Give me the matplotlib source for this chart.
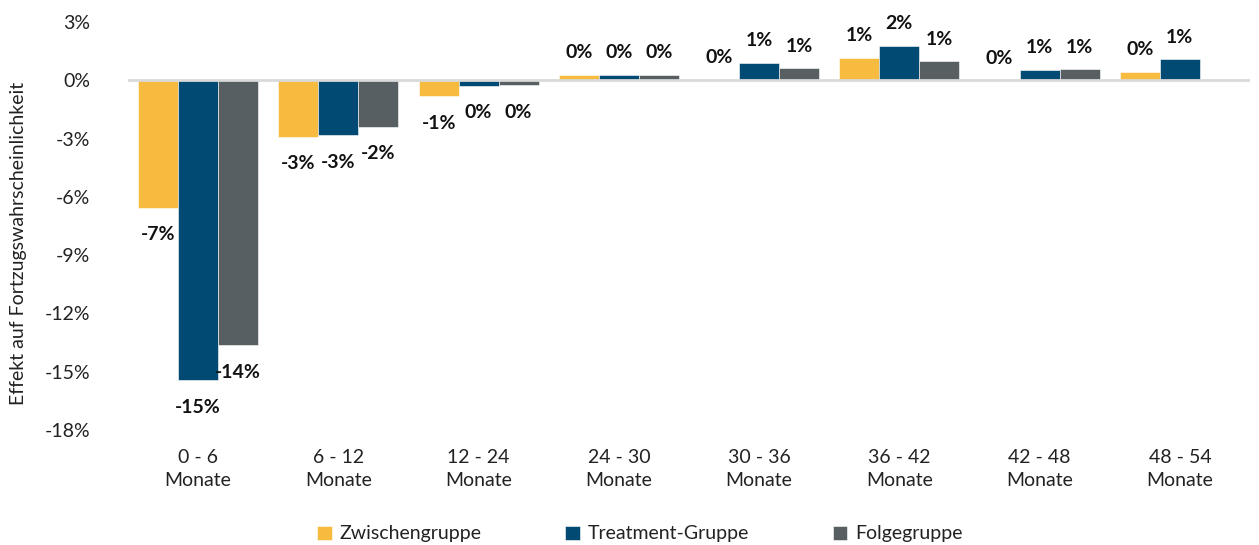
import matplotlib
matplotlib.use("Agg")
import matplotlib.pyplot as plt
import numpy as np

categories = ["0 - 6\nMonate", "6 - 12\nMonate", "12 - 24\nMonate", "24 - 30\nMonate",
              "30 - 36\nMonate", "36 - 42\nMonate", "42 - 48\nMonate", "48 - 54\nMonate"]
series_names = ["Zwischengruppe", "Treatment-Gruppe", "Folgegruppe"]
zwischen = [-6.55, -2.9, -0.82, 0.28, 0.02, 1.16, 0.0, 0.42]
treatment = [-15.43, -2.83, -0.28, 0.28, 0.88, 1.77, 0.52, 1.07]
folge = [-13.63, -2.4, -0.24, 0.28, 0.62, 0.97, 0.56, np.nan]
colors = ["#F6BB3F", "#004A73", "#575F63"]
yticks = [3, 0, -3, -6, -9, -12, -15, -18]

plt.rcParams['font.family'] = ['Lato', 'DejaVu Sans']

fig = plt.figure(figsize=(12.59, 5.45), dpi=100)
ax = fig.add_axes([128/1259, 115/545, 1122/1259, 408/545])

x = np.arange(len(categories))
w = 0.285
for i, (vals, col, name) in enumerate(zip([zwischen, treatment, folge], colors, series_names)):
    xs = x + (i - 1) * w
    v = np.array(vals, dtype=float)
    ax.bar(xs, v, width=w, color=col, edgecolor='white', linewidth=0.4, label=name, zorder=2)
    for xi, vi in zip(xs, v):
        if np.isnan(vi):
            continue
        off = 16 if vi >= 0 else -19.5
        ax.annotate(f"{int(round(vi))}%", (xi, vi), xytext=(0, off), textcoords='offset points',
                    ha='center', va='center', fontsize=14, fontweight='bold', color='#111111', zorder=4)

ax.axhline(0, color='#D9D9D9', linewidth=2, zorder=3)
ax.set_xlim(-0.5, len(categories) - 0.5)
ax.set_ylim(-18, 3)
ax.set_yticks(yticks)
ax.set_yticklabels([f"{t}%" for t in yticks], fontsize=14, color='#222222')
ax.set_xticks(x)
ax.set_xticklabels(categories, fontsize=14, color='#222222', linespacing=1.4)
ax.tick_params(axis='both', length=0)
ax.tick_params(axis='y', pad=27)
ax.tick_params(axis='x', pad=14)
for s in ax.spines.values():
    s.set_visible(False)

fig.text(19/1259, 1 - 243/545, "Effekt auf Fortzugswahrscheinlichkeit", rotation=90,
         ha='center', va='center', fontsize=14, color='#222222')

leg = fig.legend(loc='center', bbox_to_anchor=(640/1259, 1 - 534/545), ncol=3, frameon=False,
                 fontsize=14, handlelength=0.75, handleheight=0.75, handletextpad=0.4, columnspacing=4.3)
for t in leg.get_texts():
    t.set_color('#222222')

fig.savefig("out.png", dpi=100)
